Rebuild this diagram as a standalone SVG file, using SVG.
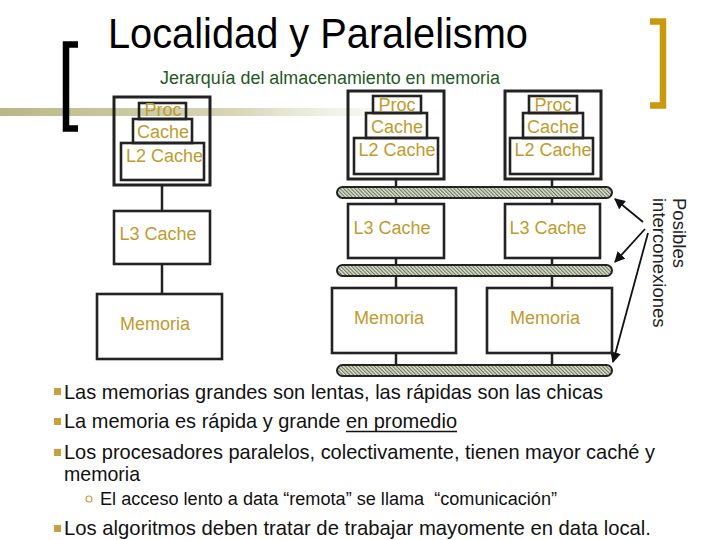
<svg xmlns="http://www.w3.org/2000/svg" width="720" height="540" viewBox="0 0 720 540">
<style>
  text { font-family: "Liberation Sans", Arial, sans-serif; }
  .lbl { font-size: 18px; fill: #BF9B2E; text-anchor: middle; }
  .box { fill: none; stroke: #222; stroke-width: 2.6; }
  .obox { fill: none; stroke: #222; stroke-width: 3; }
  .wire { stroke: #222; stroke-width: 2.5; fill: none; }
  .bus { fill: url(#hatch); stroke: #222; stroke-width: 2; }
  .arrow { stroke: #111; stroke-width: 1.8; fill: none; marker-end: url(#ah); }
  .body { font-size: 21px; fill: #111; }
  .bullet { fill: #C8A040; }
</style>
<defs>
  <linearGradient id="band" x1="0" y1="0" x2="1" y2="0">
    <stop offset="0" stop-color="#B8B884" stop-opacity="1"/>
    <stop offset="0.5" stop-color="#C4C498" stop-opacity="0.7"/>
    <stop offset="1" stop-color="#FFFFFF" stop-opacity="0"/>
  </linearGradient>
  <pattern id="hatch" patternUnits="userSpaceOnUse" width="2.6" height="2.6" patternTransform="rotate(-45)">
    <rect width="2.6" height="2.6" fill="#D8E2C4"/>
    <line x1="0.6" y1="0" x2="0.6" y2="2.6" stroke="#4a4a4a" stroke-width="0.8"/>
  </pattern>
  <marker id="ah" viewBox="0 0 10 10" refX="9" refY="5" markerWidth="6" markerHeight="6" orient="auto" markerUnits="strokeWidth">
    <path d="M0,0 L10,5 L0,10 Z" fill="#111"/>
  </marker>
</defs>

<rect width="720" height="540" fill="#FFFFFF"/>
<rect x="0" y="108" width="470" height="8" fill="url(#band)"/>

<!-- brackets -->
<path d="M78,44.5 H66 V128.5 H78" fill="none" stroke="#000" stroke-width="6.5"/>
<path d="M650,21.5 H663 V105.5 H650" fill="none" stroke="#C99A0E" stroke-width="6.5"/>

<text x="108" y="48" font-size="42" fill="#000" textLength="420" lengthAdjust="spacingAndGlyphs">Localidad y Paralelismo</text>
<text x="160" y="84" font-size="18" fill="#1E5A1E" textLength="340" lengthAdjust="spacingAndGlyphs">Jerarquía del almacenamiento en memoria</text>

<!-- connectors -->
<g id="connectors">
  <line class="wire" x1="162" y1="185" x2="162" y2="211"/>
  <line class="wire" x1="162" y1="264" x2="162" y2="294"/>
  <line class="wire" x1="396" y1="179" x2="396" y2="187"/>
  <line class="wire" x1="396" y1="198" x2="396" y2="204"/>
  <line class="wire" x1="396" y1="258" x2="396" y2="265"/>
  <line class="wire" x1="396" y1="276" x2="396" y2="288"/>
  <line class="wire" x1="396" y1="353" x2="396" y2="365"/>
  <line class="wire" x1="552" y1="179" x2="552" y2="187"/>
  <line class="wire" x1="552" y1="198" x2="552" y2="204"/>
  <line class="wire" x1="552" y1="258" x2="552" y2="265"/>
  <line class="wire" x1="552" y1="276" x2="552" y2="288"/>
  <line class="wire" x1="552" y1="353" x2="552" y2="365"/>
  <line class="arrow" x1="643" y1="222" x2="615" y2="199"/>
  <line class="arrow" x1="645" y1="229" x2="615" y2="262"/>
  <line class="arrow" x1="648" y1="233" x2="613" y2="362"/>
</g>

<!-- buses -->
<g id="bus1"><rect class="bus" x="337" y="187" width="275" height="11" rx="5.5"/></g>
<g id="bus2"><rect class="bus" x="337" y="265" width="275" height="11" rx="5.5"/></g>
<g id="bus3"><rect class="bus" x="337" y="365" width="275" height="11" rx="5.5"/></g>

<!-- processor nodes -->
<g id="proc1">
  <rect class="obox" x="114" y="97" width="96" height="88"/>
  <rect class="box" x="139" y="103" width="47" height="16"/>
  <rect class="box" x="133" y="119" width="59" height="24"/>
  <rect class="box" x="121" y="143" width="83" height="37"/>
  <text class="lbl" x="163" y="116">Proc</text>
  <text class="lbl" x="163" y="138">Cache</text>
  <text class="lbl" x="164.5" y="162">L2 Cache</text>
</g>
<g id="proc2">
  <rect class="obox" x="348" y="91" width="96" height="88"/>
  <rect class="box" x="373" y="96" width="48" height="17"/>
  <rect class="box" x="366" y="113" width="61" height="25"/>
  <rect class="box" x="354" y="138" width="84" height="36"/>
  <text class="lbl" x="397" y="111">Proc</text>
  <text class="lbl" x="397" y="133">Cache</text>
  <text class="lbl" x="397" y="156">L2 Cache</text>
</g>
<g id="proc3">
  <rect class="obox" x="505" y="91" width="96" height="88"/>
  <rect class="box" x="529" y="96" width="48" height="17"/>
  <rect class="box" x="523" y="113" width="60" height="25"/>
  <rect class="box" x="510" y="138" width="83" height="36"/>
  <text class="lbl" x="553" y="111">Proc</text>
  <text class="lbl" x="553" y="133">Cache</text>
  <text class="lbl" x="553" y="156">L2 Cache</text>
</g>

<!-- L3 caches -->
<g id="l3a"><rect class="box" x="114" y="211" width="96" height="53"/><text class="lbl" x="158" y="240">L3 Cache</text></g>
<g id="l3b"><rect class="box" x="348" y="204" width="96" height="54"/><text class="lbl" x="392" y="234">L3 Cache</text></g>
<g id="l3c"><rect class="box" x="505" y="204" width="95" height="54"/><text class="lbl" x="548" y="234">L3 Cache</text></g>

<!-- memories -->
<g id="mema"><rect class="box" x="97" y="294" width="125" height="65"/><text class="lbl" x="155" y="330">Memoria</text></g>
<g id="memb"><rect class="box" x="332" y="288" width="124" height="65"/><text class="lbl" x="389" y="324">Memoria</text></g>
<g id="memc"><rect class="box" x="487" y="288" width="125" height="65"/><text class="lbl" x="545" y="324">Memoria</text></g>

<g id="interconnect-label" fill="#222" font-size="18.5">
  <text transform="translate(673,198) rotate(90)">Posibles</text>
  <text transform="translate(653,198) rotate(90)">interconexiones</text>
</g>

<!-- bullets -->
<g id="bullets">
  <rect class="bullet" x="54" y="388" width="7" height="7"/>
  <rect class="bullet" x="54" y="418" width="7" height="7"/>
  <rect class="bullet" x="54" y="449" width="7" height="7"/>
  <rect class="bullet" x="54" y="525" width="7" height="7"/>
  <circle cx="89" cy="499" r="3" fill="none" stroke="#C8A040" stroke-width="1.2"/>
  <text class="body" x="64" y="399" textLength="539" lengthAdjust="spacingAndGlyphs">Las memorias grandes son lentas, las rápidas son las chicas</text>
  <text class="body" x="64" y="428" textLength="393" lengthAdjust="spacingAndGlyphs">La memoria es rápida y grande en promedio</text>
  <line x1="346" y1="431.5" x2="457" y2="431.5" stroke="#111" stroke-width="1.4"/>
  <text class="body" x="64" y="459" textLength="591" lengthAdjust="spacingAndGlyphs">Los procesadores paralelos, colectivamente, tienen mayor caché y</text>
  <text class="body" x="64" y="481" textLength="76" lengthAdjust="spacingAndGlyphs">memoria</text>
  <text x="100" y="505" font-size="18" fill="#111" xml:space="preserve" textLength="457" lengthAdjust="spacingAndGlyphs">El acceso lento a data “remota” se llama  “comunicación”</text>
  <text class="body" x="64" y="535" textLength="587" lengthAdjust="spacingAndGlyphs">Los algoritmos deben tratar de trabajar mayomente en data local.</text>
</g>
</svg>
